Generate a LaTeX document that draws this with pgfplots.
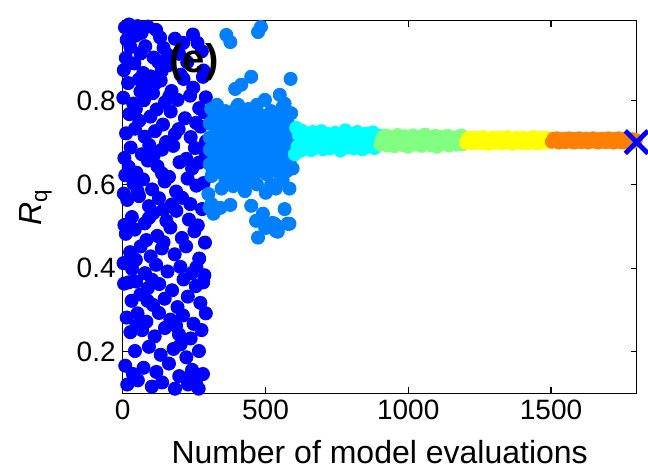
\documentclass[border=0pt]{standalone}
\usepackage{fontspec}
\setmainfont{Liberation Sans}
\usepackage{pgfplots}
\pgfplotsset{compat=1.18}
\definecolor{c1}{rgb}{0,0,1}
\definecolor{c2}{rgb}{0,0.5,1}
\definecolor{c3}{rgb}{0,1,1}
\definecolor{c4}{rgb}{0.5,1,0.5}
\definecolor{c5}{rgb}{1,1,0}
\definecolor{c6}{rgb}{1,0.5,0}
\begin{document}
\begin{tikzpicture}
\path[use as bounding box] (-61.35pt,-39.85pt) rectangle (262.65pt,196.65pt);
\begin{axis}[
  at={(0,0)}, anchor=south west,
  scale only axis, width=257pt, height=186.3pt,
  xmin=0, xmax=1800, ymin=0.101, ymax=0.991,
  xtick={0,500,1000,1500}, ytick={0.2,0.4,0.6,0.8},
  xtick pos=both, ytick pos=both,
  xticklabel pos=lower, yticklabel pos=left,
  tick align=inside, major tick length=3pt,
  clip=false,
  axis line style={line width=0.6pt},
  tick style={line width=0.6pt, black},
  ticklabel style={font=\fontsize{14}{16}\selectfont},
  /pgf/number format/assume math mode=true,
  /pgf/number format/1000 sep={},
  scaled ticks=false,
  yticklabel style={/pgf/number format/fixed, /pgf/number format/precision=1, /pgf/number format/fixed zerofill},
  every axis plot/.append style={only marks, mark=*, mark size=3.3pt},
]
% generation 1
\addplot[c1, mark options={draw=c1, fill=c1}] coordinates {
(8,0.975)(22,0.982)(31,0.966)(52,0.978)(66,0.962)(88,0.977)(117,0.969)(131,0.951)(183,0.948)(246,0.958)(262,0.938)(14,0.945)(44,0.955)
(27,0.928)(63,0.913)(79,0.93)(108,0.903)(143,0.926)(157,0.91)(197,0.912)(212,0.938)(277,0.918)(11,0.902)
(4,0.873)(41,0.889)(72,0.866)(124,0.893)(158,0.884)(203,0.862)(226,0.892)(283,0.872)(98,0.858)(136,0.87)
(19,0.842)(57,0.851)(86,0.833)(133,0.848)(171,0.823)(213,0.852)(247,0.831)(281,0.857)(62,0.822)(112,0.84)
(2,0.807)(37,0.793)(74,0.801)(106,0.818)(148,0.796)(192,0.802)(236,0.812)(268,0.782)(291,0.808)(163,0.81)
(23,0.768)(58,0.752)(97,0.762)(141,0.743)(168,0.774)(218,0.758)(257,0.747)(286,0.772)(119,0.779)(46,0.78)
(12,0.722)(43,0.733)(77,0.714)(113,0.727)(152,0.701)(196,0.732)(238,0.713)(273,0.738)(292,0.703)(183,0.72)
(6,0.663)(28,0.688)(67,0.672)(93,0.694)(137,0.683)(177,0.692)(223,0.661)(253,0.687)(289,0.677)(108,0.668)
(21,0.642)(48,0.628)(88,0.657)(122,0.643)(162,0.618)(199,0.653)(243,0.638)(267,0.652)(9,0.622)(138,0.626)
(38,0.602)(71,0.612)(103,0.588)(147,0.607)(187,0.583)(227,0.614)(258,0.597)(283,0.603)(4,0.578)(52,0.584)
(16,0.563)(57,0.572)(92,0.548)(127,0.567)(172,0.552)(208,0.568)(237,0.553)(278,0.541)(143,0.54)
(32,0.522)(77,0.507)(108,0.532)(153,0.513)(188,0.537)(232,0.516)(263,0.502)(6,0.503)(92,0.52)
(11,0.482)(42,0.492)(83,0.467)(121,0.477)(167,0.497)(207,0.472)(251,0.488)(288,0.461)(143,0.462)
(26,0.438)(63,0.452)(98,0.428)(137,0.447)(182,0.433)(222,0.452)(268,0.423)(3,0.412)(46,0.42)
(33,0.398)(78,0.388)(117,0.408)(157,0.392)(202,0.403)(242,0.388)(286,0.383)(258,0.402)
(5,0.363)(21,0.366)(47,0.368)(88,0.352)(128,0.362)(173,0.347)(213,0.373)(256,0.357)(282,0.366)(103,0.372)
(31,0.322)(62,0.337)(106,0.312)(147,0.327)(192,0.307)(228,0.332)(272,0.317)(87,0.322)
(14,0.282)(52,0.292)(83,0.272)(127,0.293)(167,0.277)(211,0.287)(248,0.267)(291,0.292)(187,0.262)
(27,0.247)(68,0.252)(112,0.237)(148,0.257)(197,0.242)(238,0.232)(276,0.252)(48,0.262)
(43,0.202)(92,0.212)(133,0.193)(178,0.207)(223,0.187)(267,0.202)(203,0.218)
(9,0.167)(36,0.147)(73,0.162)(118,0.152)(162,0.172)(198,0.142)(243,0.157)(281,0.147)(223,0.137)
(16,0.122)(53,0.132)(102,0.117)(138,0.127)(183,0.112)(229,0.122)(266,0.112)(256,0.128)
};
% generation 2
\addplot[c2, mark options={draw=c2, fill=c2}] coordinates {
(305,0.648)(305,0.683)(305,0.712)(305,0.745)
(315,0.632)(315,0.676)(315,0.705)(315,0.752)
(325,0.655)(325,0.69)(325,0.72)(325,0.738)
(335,0.641)(335,0.668)(335,0.709)(335,0.761)
(345,0.628)(345,0.687)(345,0.716)(345,0.747)
(355,0.652)(355,0.673)(355,0.702)(355,0.755)
(365,0.637)(365,0.692)(365,0.724)(365,0.742)
(375,0.646)(375,0.679)(375,0.711)(375,0.768)
(385,0.625)(385,0.684)(385,0.706)(385,0.751)
(395,0.658)(395,0.671)(395,0.718)(395,0.739)
(405,0.634)(405,0.689)(405,0.713)(405,0.763)
(415,0.649)(415,0.677)(415,0.704)(415,0.744)
(425,0.621)(425,0.693)(425,0.722)(425,0.757)
(435,0.653)(435,0.67)(435,0.708)(435,0.749)
(445,0.638)(445,0.686)(445,0.715)(445,0.771)
(455,0.645)(455,0.68)(455,0.701)(455,0.741)
(465,0.627)(465,0.691)(465,0.719)(465,0.758)
(475,0.656)(475,0.674)(475,0.71)(475,0.746)
(485,0.633)(485,0.688)(485,0.723)(485,0.765)
(495,0.643)(495,0.669)(495,0.707)(495,0.752)
(505,0.624)(505,0.695)(505,0.714)(505,0.74)
(515,0.651)(515,0.678)(515,0.703)(515,0.76)
(525,0.636)(525,0.685)(525,0.721)(525,0.748)
(535,0.647)(535,0.672)(535,0.709)(535,0.743)
(545,0.629)(545,0.69)(545,0.717)(545,0.756)
(555,0.654)(555,0.681)(555,0.705)(555,0.738)
(565,0.64)(565,0.675)(565,0.72)(565,0.754)
(575,0.632)(575,0.687)(575,0.712)(575,0.745)
(585,0.65)(585,0.679)(585,0.703)(585,0.74)
(595,0.638)(595,0.69)(595,0.716)(595,0.735)
(310,0.78)(330,0.79)(360,0.775)(400,0.785)(440,0.78)(470,0.79)(520,0.775)(560,0.785)(590,0.77)
(335,0.774)(404,0.79)(498,0.802)(550,0.814)(567,0.793)(394,0.828)(415,0.838)(450,0.857)(588,0.852)
(363,0.957)(377,0.94)(484,0.976)(474,0.964)
(311,0.62)(346,0.59)(387,0.596)(428,0.584)(501,0.58)(536,0.59)(584,0.59)(300,0.577)
(311,0.553)(342,0.544)(377,0.551)(450,0.549)(491,0.53)(467,0.513)(501,0.496)(536,0.489)
(567,0.541)(584,0.506)(474,0.473)(525,0.508)(498,0.499)(532,0.506)(577,0.506)(543,0.487)
(304,0.544)(318,0.53)(410,0.605)(470,0.6)(560,0.61)(520,0.6)(360,0.61)(440,0.61)
};
% generation 3
\addplot[c3, mark options={draw=c3, fill=c3}] coordinates {
(603,0.672)(608,0.735)(612,0.69)(617,0.718)(622,0.68)(627,0.728)(632,0.7)(637,0.685)(642,0.722)
(648,0.695)(654,0.712)(660,0.682)(666,0.725)(672,0.703)(678,0.688)(684,0.716)(690,0.695)(696,0.727)
(702,0.684)(708,0.709)(714,0.698)(720,0.72)(726,0.686)(732,0.712)(738,0.7)(744,0.723)(750,0.69)
(756,0.707)(762,0.681)(768,0.715)(774,0.697)(780,0.729)(786,0.688)(792,0.71)(798,0.699)(804,0.718)
(810,0.686)(816,0.705)(822,0.725)(828,0.693)(834,0.714)(840,0.684)(846,0.702)(852,0.721)(858,0.69)
(864,0.711)(870,0.697)(876,0.724)(882,0.687)(888,0.708)(894,0.699)(899,0.716)
};
% generation 4
\addplot[c4, mark options={draw=c4, fill=c4}] coordinates {
(903,0.695)(909,0.712)(915,0.702)(921,0.717)(927,0.693)(933,0.708)(939,0.699)(945,0.714)(951,0.691)
(957,0.706)(963,0.718)(969,0.697)(975,0.71)(981,0.694)(987,0.715)(993,0.703)(999,0.69)(1005,0.712)
(1011,0.7)(1017,0.717)(1023,0.695)(1029,0.708)(1035,0.698)(1041,0.714)(1047,0.692)(1053,0.706)
(1059,0.719)(1065,0.699)(1071,0.711)(1077,0.694)(1083,0.709)(1089,0.7)(1095,0.716)(1101,0.69)
(1107,0.705)(1113,0.713)(1119,0.697)(1125,0.71)(1131,0.701)(1137,0.716)(1143,0.693)(1149,0.707)
(1155,0.699)(1161,0.712)(1167,0.695)(1173,0.709)(1179,0.702)(1185,0.717)(1191,0.696)(1197,0.706)
};
% generation 5
\addplot[c5, mark options={draw=c5, fill=c5}] coordinates {
(1203,0.7)(1209,0.71)(1215,0.703)(1221,0.712)(1227,0.698)(1233,0.707)(1239,0.701)(1245,0.711)
(1251,0.699)(1257,0.706)(1263,0.713)(1269,0.7)(1275,0.708)(1281,0.697)(1287,0.71)(1293,0.703)
(1299,0.712)(1305,0.699)(1311,0.706)(1317,0.701)(1323,0.711)(1329,0.698)(1335,0.707)(1341,0.702)
(1347,0.713)(1353,0.7)(1359,0.709)(1365,0.697)(1371,0.705)(1377,0.711)(1383,0.701)(1389,0.708)
(1395,0.699)(1401,0.712)(1407,0.703)(1413,0.707)(1419,0.698)(1425,0.71)(1431,0.702)(1437,0.713)
(1443,0.7)(1449,0.706)(1455,0.698)(1461,0.711)(1467,0.703)(1473,0.708)(1479,0.7)(1485,0.712)
(1491,0.701)(1497,0.707)
};
% generation 6
\addplot[c6, mark options={draw=c6, fill=c6}] coordinates {
(1503,0.702)(1509,0.709)(1515,0.704)(1521,0.71)(1527,0.7)(1533,0.707)(1539,0.703)(1545,0.709)
(1551,0.701)(1557,0.706)(1563,0.71)(1569,0.702)(1575,0.708)(1581,0.7)(1587,0.709)(1593,0.704)
(1599,0.71)(1605,0.701)(1611,0.706)(1617,0.703)(1623,0.709)(1629,0.7)(1635,0.707)(1641,0.703)
(1647,0.71)(1653,0.702)(1659,0.708)(1665,0.7)(1671,0.706)(1677,0.709)(1683,0.702)(1689,0.707)
(1695,0.701)(1701,0.71)(1707,0.704)(1713,0.707)(1719,0.7)(1725,0.709)(1731,0.703)(1737,0.71)
(1743,0.701)(1749,0.706)(1755,0.7)(1761,0.709)(1767,0.703)(1773,0.707)(1779,0.701)(1785,0.708)
(1791,0.702)(1797,0.706)
};
% best
\addplot[c1, mark=x, mark size=8pt, line width=2.4pt] coordinates {(1800,0.701)};
\coordinate (elab) at (axis cs:250,0.893);
\coordinate (ylab) at ([xshift=-43.4pt]rel axis cs:0,0.5);
\coordinate (xlab) at ([yshift=-35pt]rel axis cs:0.5,0);
\end{axis}
\node[font=\fontsize{20}{22}\selectfont\bfseries] at (elab) {(e)};
\node[rotate=90, font=\fontsize{16}{18}\selectfont] at (ylab) {\itshape R\upshape\textsubscript{q}};
\node[anchor=base, font=\fontsize{16}{18}\selectfont] at (xlab) {Number of model evaluations};
\end{tikzpicture}
\end{document}
